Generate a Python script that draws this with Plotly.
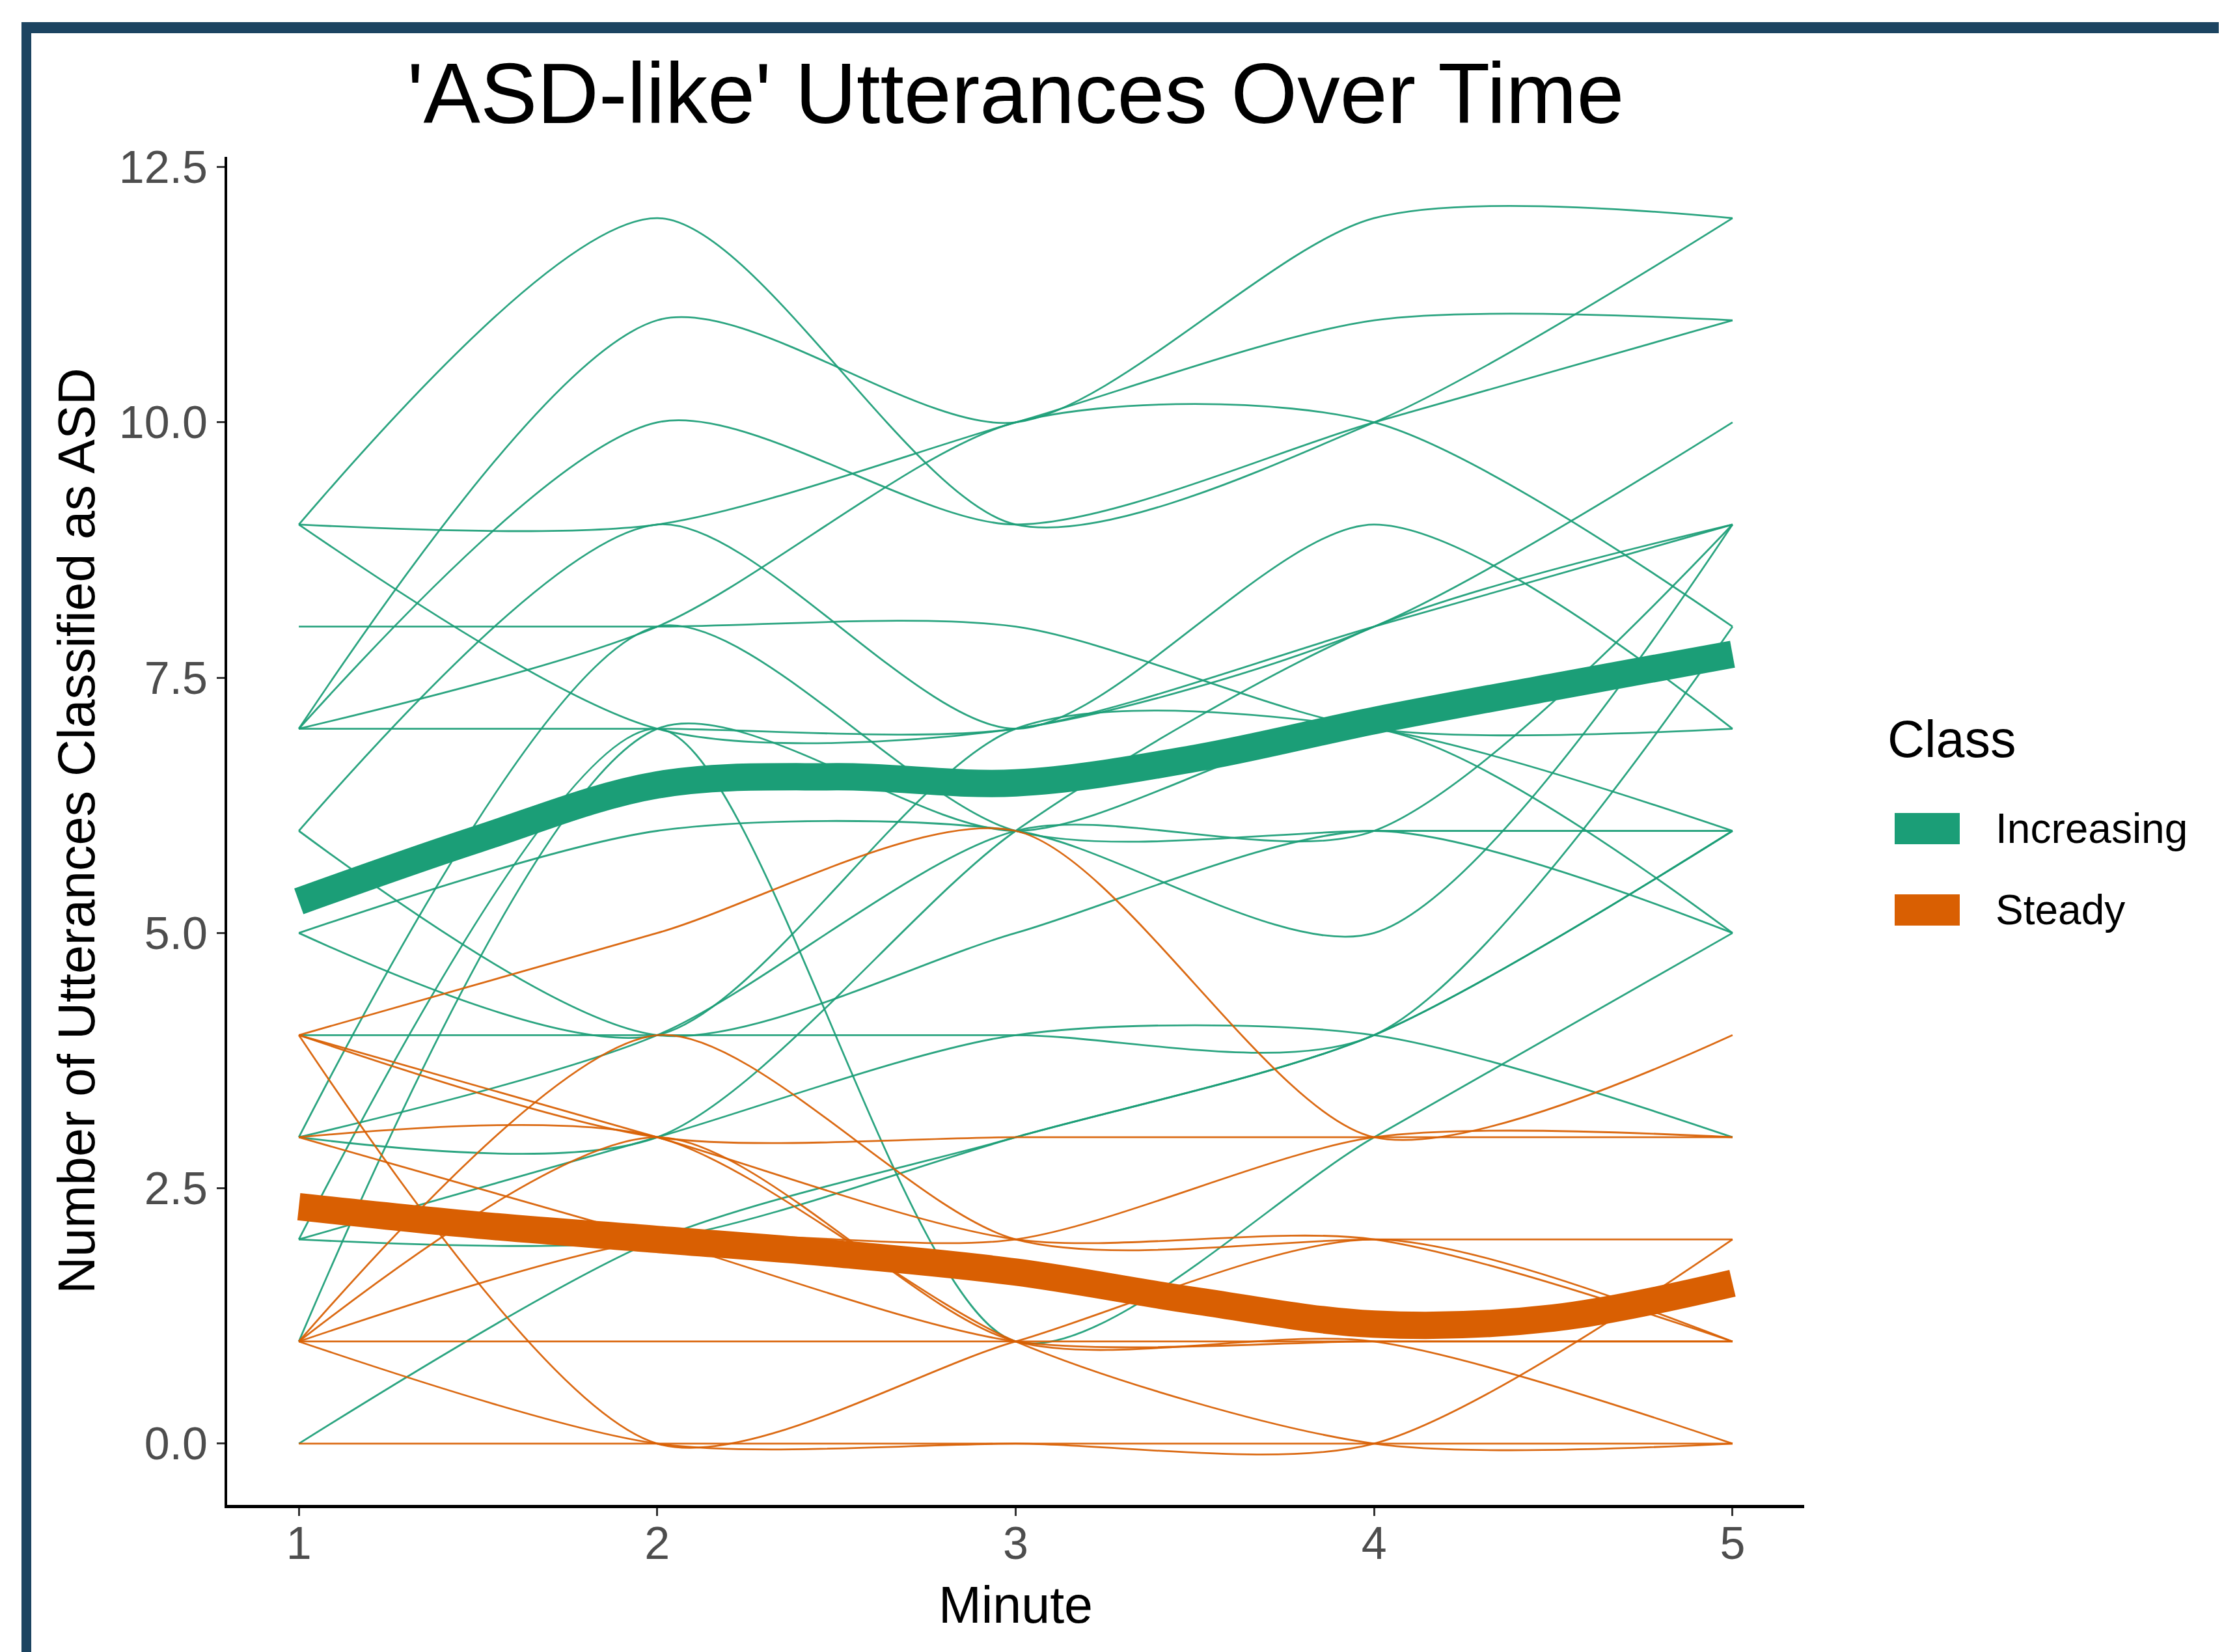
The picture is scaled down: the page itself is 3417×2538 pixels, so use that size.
import plotly.graph_objects as go

minutes = [1, 2, 3, 4, 5]

# individual trajectories (values at minutes 1..5)
increasing_lines = [
    [9, 12, 9, 10, 12],
    [7, 11, 10, 12, 12],
    [7, 10, 9, 10, 11],
    [9, 9, 10, 11, 11],
    [7, 8, 10, 10, 8],
    [8, 8, 8, 7, 7],
    [6, 9, 7, 9, 7],
    [7, 7, 7, 8, 10],
    [9, 7, 7, 8, 9],
    [3, 8, 6, 6, 6],
    [2, 7, 1, 3, 5],
    [5, 6, 6, 5, 9],
    [6, 4, 5, 6, 5],
    [5, 4, 7, 7, 6],
    [4, 4, 4, 4, 8],
    [3, 4, 6, 6, 9],
    [2, 3, 4, 4, 3],
    [3, 3, 6, 8, 9],
    [0, 2, 3, 4, 6],
    [1, 7, 6, 7, 5],
    [2, 2, 3, 4, 6],
]
steady_lines = [
    [4, 5, 6, 3, 4],
    [4, 3, 3, 3, 3],
    [1, 4, 2, 2, 2],
    [4, 0, 1, 2, 1],
    [3, 3, 1, 0, 0],
    [3, 2, 1, 1, 1],
    [1, 3, 1, 1, 0],
    [1, 1, 1, 1, 1],
    [0, 0, 0, 0, 2],
    [1, 2, 2, 3, 3],
    [1, 0, 0, 0, 0],
    [4, 3, 2, 2, 1],
]

trend_minutes = [1, 1.5, 2, 2.5, 3, 3.5, 4, 4.5, 5]
increasing_trend = [5.31, 5.92, 6.45, 6.53, 6.47, 6.71, 7.08, 7.41, 7.73]
steady_trend = [2.32, 2.14, 2.0, 1.86, 1.68, 1.40, 1.17, 1.23, 1.57]

classes = ["Increasing", "Steady"]
class_colors = ["#1B9E77", "#D95F02"]

OFF = 8  # page body margin
W, H = 3417 - OFF, 2538 - OFF
L, R, T, B = 349 - OFF, 2772 - OFF, 241 - OFF, 2312 - OFF

fig = go.Figure()

for lines, col in [(increasing_lines, class_colors[0]), (steady_lines, class_colors[1])]:
    for vals in lines:
        fig.add_trace(go.Scatter(
            x=minutes, y=vals, mode="lines",
            line=dict(color=col, width=2.8, shape="spline", smoothing=0.8),
            opacity=0.92, showlegend=False, hoverinfo="skip"))

for trend, col in [(increasing_trend, class_colors[0]), (steady_trend, class_colors[1])]:
    fig.add_trace(go.Scatter(
        x=trend_minutes, y=trend, mode="lines",
        line=dict(color=col, width=42, shape="spline", smoothing=1.0),
        showlegend=False, hoverinfo="skip"))

def px_x(p):
    p = p - OFF
    return (p - L) / (R - L)

def px_y(p):
    p = p - OFF
    return (B - p) / (B - T)

shapes = []
frame_col = "#1c4461"
shapes.append(dict(type="rect", xref="paper", yref="paper",
                   x0=px_x(33), x1=px_x(3440), y0=px_y(51), y1=px_y(34),
                   fillcolor=frame_col, line=dict(width=0), layer="above"))
shapes.append(dict(type="rect", xref="paper", yref="paper",
                   x0=px_x(33), x1=px_x(48), y0=px_y(2560), y1=px_y(34),
                   fillcolor=frame_col, line=dict(width=0), layer="above"))

annotations = []
annotations.append(dict(text="Class", xref="paper", yref="paper",
                        x=px_x(2898), y=px_y(1135), xanchor="left", yanchor="middle",
                        showarrow=False, font=dict(size=79, color="black")))
key_centers = [1273, 1398]
for name, col, cy in zip(classes, class_colors, key_centers):
    shapes.append(dict(type="rect", xref="paper", yref="paper",
                       x0=px_x(2911), x1=px_x(3011), y0=px_y(cy + 24), y1=px_y(cy - 24),
                       fillcolor=col, line=dict(width=0)))
    annotations.append(dict(text=name, xref="paper", yref="paper",
                            x=px_x(3064), y=px_y(cy), xanchor="left", yanchor="middle",
                            showarrow=False, font=dict(size=64, color="black")))

fig.update_layout(
    width=W, height=H,
    margin=dict(l=L, r=W - R, t=T, b=H - B),
    paper_bgcolor="white", plot_bgcolor="white",
    font=dict(family="Liberation Sans, Arial, sans-serif", color="black"),
    title=dict(text="'ASD-like' Utterances Over Time", x=0.5, xref="paper",
               y=1 - 135 / H, yref="container", xanchor="center", yanchor="middle",
               font=dict(size=131, color="black")),
    showlegend=False,
    shapes=shapes, annotations=annotations,
)
fig.update_xaxes(
    range=[0.8, 5.2], tickvals=minutes, ticktext=[str(m) for m in minutes],
    showgrid=False, zeroline=False, showline=True, linecolor="black", linewidth=5,
    ticks="outside", ticklen=12, tickwidth=3, tickcolor="#333333",
    tickfont=dict(size=70, color="#4D4D4D"), ticklabelstandoff=-18,
    title=dict(text="Minute", font=dict(size=79, color="black"), standoff=30),
)
fig.update_yaxes(
    range=[-0.6, 12.6], tickvals=[0, 2.5, 5, 7.5, 10, 12.5],
    ticktext=["0.0", "2.5", "5.0", "7.5", "10.0", "12.5"],
    showgrid=False, zeroline=False, showline=True, linecolor="black", linewidth=4,
    ticks="outside", ticklen=12, tickwidth=3, tickcolor="#333333",
    tickfont=dict(size=70, color="#4D4D4D"),
    title=dict(text="Number of Utterances Classified as ASD", font=dict(size=79, color="black"), standoff=12),
)

fig.write_html("out.html")
